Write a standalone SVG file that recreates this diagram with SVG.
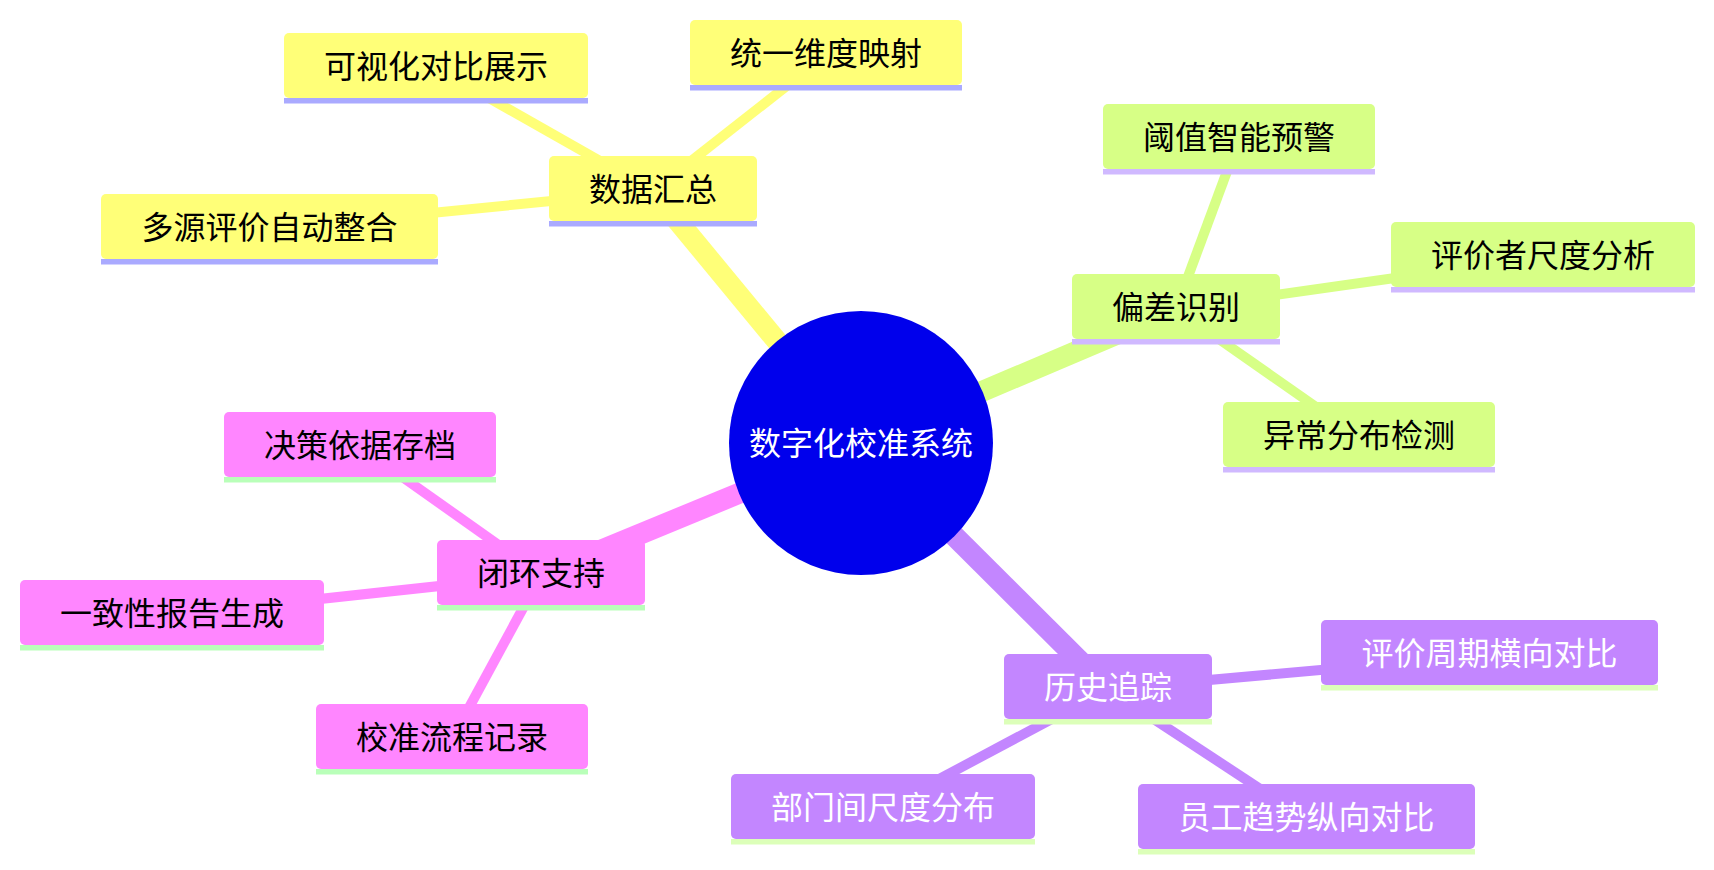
<svg xmlns="http://www.w3.org/2000/svg" width="1714" height="870" viewBox="0 0 1714 870">
<style>
text{font-family:"Noto Sans CJK SC","Noto Sans",sans-serif;font-size:32px;text-anchor:middle;dominant-baseline:central}
.e1{stroke-width:21;stroke-linecap:butt;fill:none}
.e2{stroke-width:10;stroke-linecap:butt;fill:none}
.y{fill:#ffff78}.ys{stroke:#ffff78}.yb{fill:#aaaaff}
.g{fill:#d7ff86}.gs{stroke:#d7ff86}.gb{fill:#d0b9ff}
.p{fill:#ff86ff}.ps{stroke:#ff86ff}.pb{fill:#b9ffb9}
.v{fill:#c386ff}.vs{stroke:#c386ff}.vb{fill:#dcffb9}
.dk{fill:#000}.lt{fill:#fff}
</style>
<rect width="1714" height="870" fill="#fff"/>
<g id="connectors">
<line class="e1 ys" x1="861" y1="443" x2="653" y2="191"/>
<line class="e2 ys" x1="653" y1="191" x2="436" y2="68"/>
<line class="e2 ys" x1="653" y1="191" x2="826" y2="55"/>
<line class="e2 ys" x1="653" y1="191" x2="269" y2="229"/>
<line class="e1 gs" x1="861" y1="443" x2="1176" y2="309"/>
<line class="e2 gs" x1="1176" y1="309" x2="1239" y2="139"/>
<line class="e2 gs" x1="1176" y1="309" x2="1543" y2="257"/>
<line class="e2 gs" x1="1176" y1="309" x2="1359" y2="437"/>
<line class="e1 ps" x1="861" y1="443" x2="541" y2="575"/>
<line class="e2 ps" x1="541" y1="575" x2="360" y2="447"/>
<line class="e2 ps" x1="541" y1="575" x2="172" y2="615"/>
<line class="e2 ps" x1="541" y1="575" x2="452" y2="739"/>
<line class="e1 vs" x1="861" y1="443" x2="1108" y2="689"/>
<line class="e2 vs" x1="1108" y1="689" x2="1489" y2="655"/>
<line class="e2 vs" x1="1108" y1="689" x2="883" y2="809"/>
<line class="e2 vs" x1="1108" y1="689" x2="1306" y2="819"/>
</g>
<g id="root">
<circle cx="861" cy="443" r="132" fill="#0000ec"/>
<text class="lt" x="861" y="441">数字化校准系统</text>
</g>
<g id="n-shuju"><rect class="y" x="549" y="156" width="208" height="65" rx="5"/><rect class="yb" x="549" y="221" width="208" height="5.5"/><text class="dk" x="653" y="187">数据汇总</text></g>
<g id="n-keshihua"><rect class="y" x="284" y="33" width="304" height="65" rx="5"/><rect class="yb" x="284" y="98" width="304" height="5.5"/><text class="dk" x="436" y="64">可视化对比展示</text></g>
<g id="n-tongyi"><rect class="y" x="690" y="20" width="272" height="65" rx="5"/><rect class="yb" x="690" y="85" width="272" height="5.5"/><text class="dk" x="826" y="51">统一维度映射</text></g>
<g id="n-duoyuan"><rect class="y" x="101" y="194" width="337" height="65" rx="5"/><rect class="yb" x="101" y="259" width="337" height="5.5"/><text class="dk" x="269.5" y="225">多源评价自动整合</text></g>
<g id="n-piancha"><rect class="g" x="1072" y="274" width="208" height="65" rx="5"/><rect class="gb" x="1072" y="339" width="208" height="5.5"/><text class="dk" x="1176" y="305">偏差识别</text></g>
<g id="n-yuzhi"><rect class="g" x="1103" y="104" width="272" height="65" rx="5"/><rect class="gb" x="1103" y="169" width="272" height="5.5"/><text class="dk" x="1239" y="135">阈值智能预警</text></g>
<g id="n-pingjiazhe"><rect class="g" x="1391" y="222" width="304" height="65" rx="5"/><rect class="gb" x="1391" y="287" width="304" height="5.5"/><text class="dk" x="1543" y="253">评价者尺度分析</text></g>
<g id="n-yichang"><rect class="g" x="1223" y="402" width="272" height="65" rx="5"/><rect class="gb" x="1223" y="467" width="272" height="5.5"/><text class="dk" x="1359" y="433">异常分布检测</text></g>
<g id="n-bihuan"><rect class="p" x="437" y="540" width="208" height="65" rx="5"/><rect class="pb" x="437" y="605" width="208" height="5.5"/><text class="dk" x="541" y="571">闭环支持</text></g>
<g id="n-juece"><rect class="p" x="224" y="412" width="272" height="65" rx="5"/><rect class="pb" x="224" y="477" width="272" height="5.5"/><text class="dk" x="360" y="443">决策依据存档</text></g>
<g id="n-yizhi"><rect class="p" x="20" y="580" width="304" height="65" rx="5"/><rect class="pb" x="20" y="645" width="304" height="5.5"/><text class="dk" x="172" y="611">一致性报告生成</text></g>
<g id="n-jiaozhun"><rect class="p" x="316" y="704" width="272" height="65" rx="5"/><rect class="pb" x="316" y="769" width="272" height="5.5"/><text class="dk" x="452" y="735">校准流程记录</text></g>
<g id="n-lishi"><rect class="v" x="1004" y="654" width="208" height="65" rx="5"/><rect class="vb" x="1004" y="719" width="208" height="5.5"/><text class="lt" x="1108" y="685">历史追踪</text></g>
<g id="n-zhouqi"><rect class="v" x="1321" y="620" width="337" height="65" rx="5"/><rect class="vb" x="1321" y="685" width="337" height="5.5"/><text class="lt" x="1489.5" y="651">评价周期横向对比</text></g>
<g id="n-bumen"><rect class="v" x="731" y="774" width="304" height="65" rx="5"/><rect class="vb" x="731" y="839" width="304" height="5.5"/><text class="lt" x="883" y="805">部门间尺度分布</text></g>
<g id="n-yuangong"><rect class="v" x="1138" y="784" width="337" height="65" rx="5"/><rect class="vb" x="1138" y="849" width="337" height="5.5"/><text class="lt" x="1306.5" y="815">员工趋势纵向对比</text></g>
</svg>
